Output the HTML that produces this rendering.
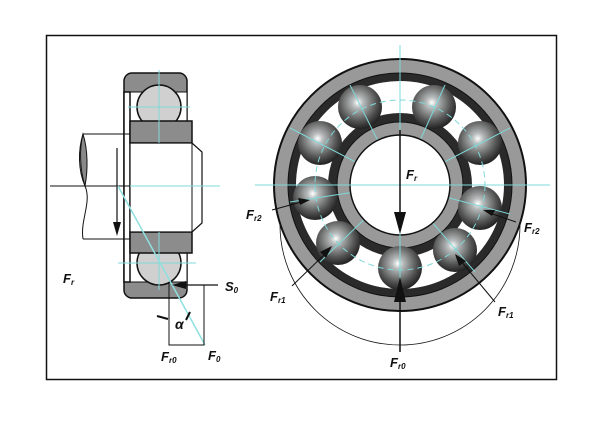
<!DOCTYPE html>
<html><head><meta charset="utf-8"><style>
html,body{margin:0;padding:0;background:#fff;width:606px;height:421px;overflow:hidden}
svg{display:block}
text{font-family:"Liberation Sans",sans-serif;font-weight:bold;font-style:italic;fill:#111}
</style></head><body>
<svg width="606" height="421" viewBox="0 0 606 421" xmlns="http://www.w3.org/2000/svg">
<defs>
<radialGradient id="b" cx="0.45" cy="0.4" r="0.6">
<stop offset="0" stop-color="#ffffff"/><stop offset="0.2" stop-color="#b8bcbc"/><stop offset="0.7" stop-color="#555"/><stop offset="1" stop-color="#222"/>
</radialGradient>
</defs>
<rect x="46.5" y="35.5" width="510" height="344" fill="#fff" stroke="#111" stroke-width="1.5"/>

<!-- LEFT VIEW -->
<rect x="124" y="73" width="63" height="225" rx="8" fill="#8c8c8c" stroke="#111" stroke-width="1.5"/>
<rect x="130" y="92" width="57" height="190" fill="#fff" stroke="#111" stroke-width="1"/>
<rect x="124" y="92" width="6" height="190" fill="#fff" stroke="#111" stroke-width="1.5"/>
<circle cx="159" cy="107" r="22" fill="#d0d0d0" stroke="#111" stroke-width="1.5"/>
<circle cx="159" cy="263" r="22" fill="#d0d0d0" stroke="#111" stroke-width="1.5"/>
<rect x="130" y="121" width="62" height="22" fill="#8c8c8c" stroke="#111" stroke-width="1.5"/>
<rect x="130" y="232" width="62" height="21" fill="#8c8c8c" stroke="#111" stroke-width="1.5"/>
<path d="M130 143 H192 L202 152 V223 L192 232 H130 Z" fill="#fff" stroke="#111" stroke-width="1.2"/>
<line x1="192" y1="143" x2="192" y2="232" stroke="#111" stroke-width="1"/>
<path d="M83 134 H130 M83 239 H130" stroke="#111" stroke-width="1"/>
<path d="M83 134 C78 150 78 170 85 186 C92 202 80 220 83 239" fill="none" stroke="#111" stroke-width="1"/>
<path d="M83 134 C88 150 88 170 85 186 C80 170 79 150 83 134 Z" fill="#888" stroke="#111" stroke-width="1"/>
<line x1="50" y1="186" x2="130" y2="186" stroke="#111" stroke-width="1"/>
<line x1="130" y1="186" x2="220" y2="186" stroke="#7fd8d8" stroke-width="1"/>
<line x1="117" y1="148" x2="117" y2="224" stroke="#111" stroke-width="1.2"/>
<path d="M113 222 L117 236 L121 222 Z" fill="#111"/>
<line x1="159" y1="70" x2="159" y2="143" stroke="#7fd8d8"/>
<line x1="128" y1="107" x2="190" y2="107" stroke="#7fd8d8"/>
<line x1="159" y1="232" x2="159" y2="290" stroke="#7fd8d8"/>
<line x1="118" y1="263" x2="196" y2="263" stroke="#7fd8d8"/>
<line x1="118" y1="186" x2="205" y2="345" stroke="#8fe0e0" stroke-width="1.5"/>
<path d="M169 282 V345 H204 V285" fill="none" stroke="#111" stroke-width="1"/>
<line x1="180" y1="285" x2="218" y2="285" stroke="#111" stroke-width="1.2"/>
<path d="M172 285 L186 281 L186 289 Z" fill="#111"/>
<path d="M157 316 L168 319" stroke="#111" stroke-width="2"/>
<path d="M190 312 L186 320" stroke="#111" stroke-width="2"/>
<text x="63" y="283" font-size="13">F<tspan font-size="8" dy="2">r</tspan></text>
<text x="225" y="291" font-size="13">S<tspan font-size="8" dy="2">0</tspan></text>
<text x="175" y="329" font-size="14" font-weight="normal" font-family="Liberation Serif">α</text>
<text x="161" y="361" font-size="13">F<tspan font-size="8" dy="2">r0</tspan></text>
<text x="208" y="360" font-size="13">F<tspan font-size="8" dy="2">0</tspan></text>

<!-- RIGHT VIEW -->
<circle cx="400" cy="225" r="120" fill="none" stroke="#111" stroke-width="0.8"/>
<circle cx="400" cy="185" r="126" fill="#999" stroke="#111" stroke-width="2"/>
<circle cx="400" cy="185" r="112" fill="#2a2a2a" stroke="#111" stroke-width="1"/>
<circle cx="400" cy="185" r="104" fill="#fff"/>
<circle cx="400" cy="185" r="72" fill="#2a2a2a"/>
<circle cx="400" cy="185" r="63" fill="#999" stroke="#111" stroke-width="1"/>
<g fill="url(#b)">
<circle cx="360" cy="107" r="22"/><circle cx="434" cy="107" r="22"/>
<circle cx="320" cy="143" r="22"/><circle cx="480" cy="143" r="22"/>
<circle cx="315" cy="198" r="22"/><circle cx="480" cy="208" r="22"/>
<circle cx="338" cy="243" r="22"/><circle cx="455" cy="250" r="22"/>
<circle cx="400" cy="268" r="22"/>
</g>
<g stroke="#7fd8d8" stroke-width="1" fill="none">
<circle cx="400" cy="185" r="85" stroke-dasharray="6 4"/>
<line x1="400" y1="185" x2="350" y2="85"/><line x1="400" y1="185" x2="445" y2="85"/>
<line x1="400" y1="185" x2="290" y2="128"/><line x1="400" y1="185" x2="510" y2="128"/>
<line x1="400" y1="185" x2="290" y2="202"/><line x1="400" y1="185" x2="510" y2="214"/>
<line x1="400" y1="185" x2="320" y2="262"/><line x1="400" y1="185" x2="475" y2="272"/>
</g>
<circle cx="400" cy="185" r="50" fill="#fff" stroke="#111" stroke-width="1.5"/>
<g stroke="#7fd8d8" stroke-width="1">
<line x1="255" y1="185" x2="550" y2="185"/>
<line x1="400" y1="45" x2="400" y2="330"/>
</g>
<line x1="400" y1="130" x2="400" y2="220" stroke="#111" stroke-width="1.5"/>
<path d="M394 212 L400 234 L406 212 Z" fill="#111"/>
<line x1="400" y1="352" x2="400" y2="300" stroke="#111" stroke-width="1.5"/>
<path d="M394 302 L400 277 L406 302 Z" fill="#111"/>
<line x1="272" y1="210" x2="305" y2="201" stroke="#111"/>
<path d="M310 200 L298 198 L300 205 Z" fill="#111"/>
<line x1="516" y1="222" x2="487" y2="212" stroke="#111"/>
<path d="M483 210 L495 210 L492 216 Z" fill="#111"/>
<line x1="292" y1="286" x2="327" y2="252" stroke="#111"/>
<path d="M332 246 L320 252 L326 258 Z" fill="#111"/>
<line x1="495" y1="302" x2="460" y2="260" stroke="#111"/>
<path d="M455 254 L459 266 L466 261 Z" fill="#111"/>
<text x="406" y="179" font-size="13">F<tspan font-size="8" dy="2">r</tspan></text>
<text x="246" y="219" font-size="13">F<tspan font-size="8" dy="2">r2</tspan></text>
<text x="524" y="232" font-size="13">F<tspan font-size="8" dy="2">r2</tspan></text>
<text x="270" y="301" font-size="13">F<tspan font-size="8" dy="2">r1</tspan></text>
<text x="498" y="316" font-size="13">F<tspan font-size="8" dy="2">r1</tspan></text>
<text x="390" y="367" font-size="13">F<tspan font-size="8" dy="2">r0</tspan></text>
</svg>
</body></html>
